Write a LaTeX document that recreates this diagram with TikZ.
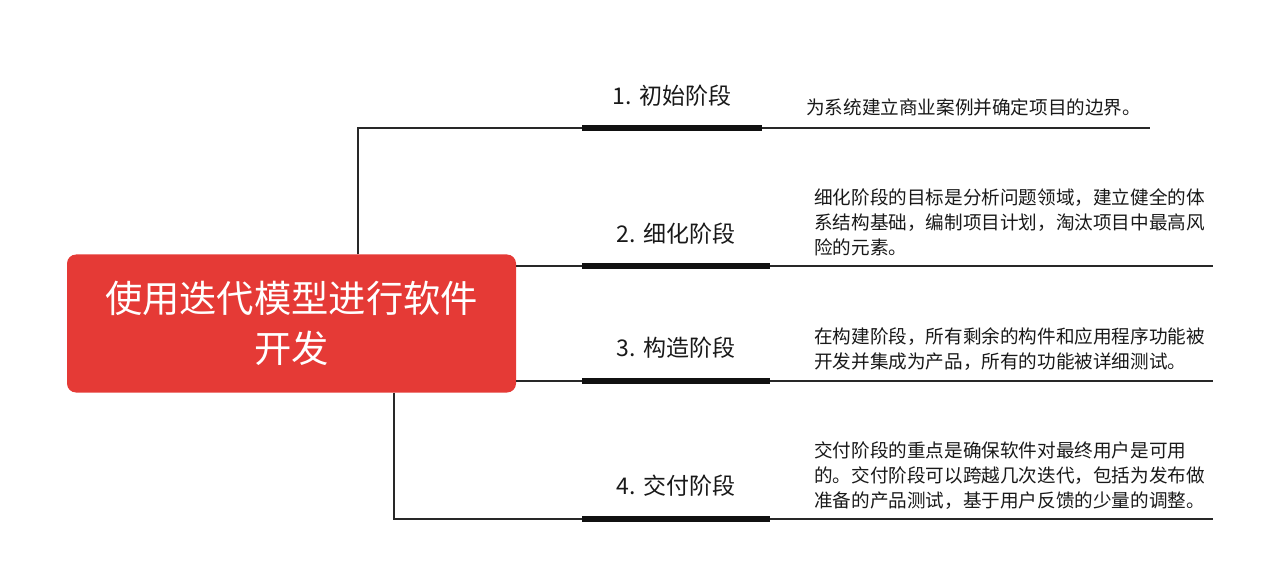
\documentclass[tikz,border=0pt]{standalone}
\usepackage{fontspec}
\setmainfont{Noto Sans CJK SC}
\definecolor{boxred}{RGB}{229,58,54}
\definecolor{linegray}{RGB}{40,40,40}
\definecolor{barblack}{RGB}{17,17,17}
\definecolor{textblack}{RGB}{25,25,25}
\begin{document}
\begin{tikzpicture}[x=1pt,y=-1pt,
  thinline/.style={draw=linegray, line width=1.3pt},
  bar/.style={draw=barblack, line width=6pt},
  stage/.style={font=\fontsize{23}{28}\selectfont, text=textblack, inner sep=0pt},
  desc/.style={font=\fontsize{18.6}{25}\selectfont, text=textblack, inner sep=0pt, anchor=west, align=left},
]
\useasboundingbox (0,0) rectangle (1280,588);
\node[fill=boxred, rounded corners=9pt, minimum width=449pt, minimum height=138pt, text=white,
      align=center, font=\fontsize{37.3}{50}\selectfont, inner sep=0pt] (root) at (291.5,323.5)
      {使用迭代模型进行软件\\开发};
% connectors
\coordinate (k1) at (358,128);
\coordinate (e1) at (1150,128);
\draw[thinline] (root.north -| k1) -- (k1) -- (e1);
\coordinate (e2) at (1213,266);
\draw[thinline] (root.east |- e2) -- (e2);
\coordinate (e3) at (1213,381);
\draw[thinline] (root.east |- e3) -- (e3);
\coordinate (k4) at (394,519);
\coordinate (e4) at (1213,519);
\draw[thinline] (root.south -| k4) -- (k4) -- (e4);
% bars
\coordinate (b1s) at (582,128); \coordinate (b1e) at (762,128);
\coordinate (b2s) at (582,266); \coordinate (b2e) at (770,266);
\coordinate (b3s) at (582,381); \coordinate (b3e) at (770,381);
\coordinate (b4s) at (582,519); \coordinate (b4e) at (770,519);
\draw[bar] (b1s) -- (b1e);
\draw[bar] (b2s) -- (b2e);
\draw[bar] (b3s) -- (b3e);
\draw[bar] (b4s) -- (b4e);
% stage labels
\node[stage] (s1) at (672,96) {1. 初始阶段};
\node[stage] (s2) at (676,234) {2. 细化阶段};
\node[stage] (s3) at (676,348) {3. 构造阶段};
\node[stage] (s4) at (676,486) {4. 交付阶段};
% descriptions
\node[desc] (d1) at (806,107) {为系统建立商业案例并确定项目的边界。};
\node[desc] (d2) at (814,222.5) {细化阶段的目标是分析问题领域，建立健全的体\\系结构基础，编制项目计划，淘汰项目中最高风\\险的元素。};
\node[desc] (d3) at (814,349) {在构建阶段，所有剩余的构件和应用程序功能被\\开发并集成为产品，所有的功能被详细测试。};
\node[desc] (d4) at (814,475.5) {交付阶段的重点是确保软件对最终用户是可用\\的。交付阶段可以跨越几次迭代，包括为发布做\\准备的产品测试，基于用户反馈的少量的调整。};
\end{tikzpicture}
\end{document}
